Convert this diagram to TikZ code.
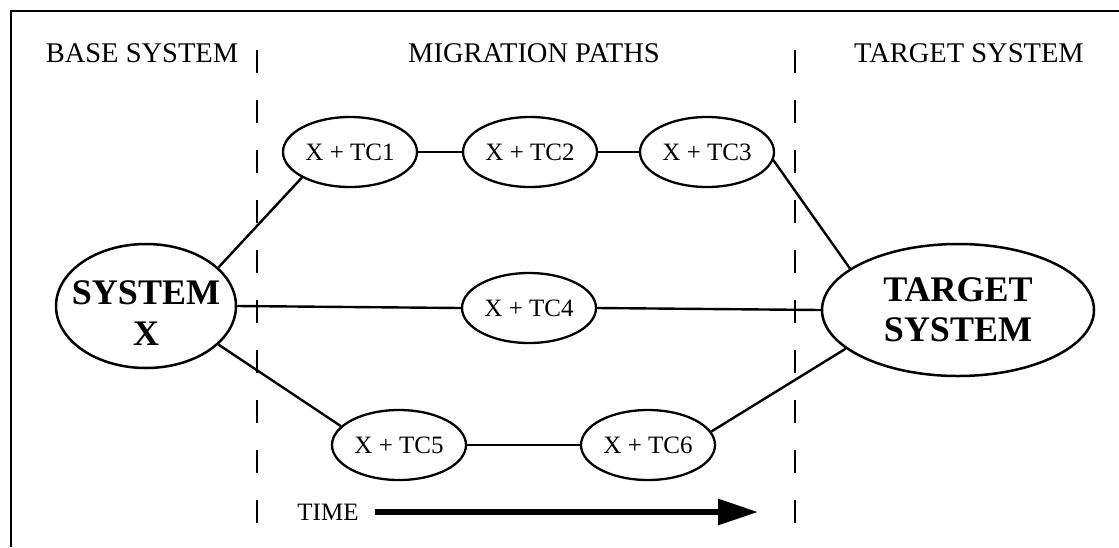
\documentclass[tikz,border=0pt]{standalone}
\usepackage{fontspec}
\setmainfont{Liberation Serif}
\usetikzlibrary{arrows.meta,shapes.geometric}
\begin{document}
\begin{tikzpicture}[x=1pt,y=-1pt,
  frame/.style={line width=2.6pt},
  divider/.style={line width=2pt,dash pattern=on 23pt off 27pt},
  link/.style={line width=2.4pt},
  tc/.style={ellipse,draw,line width=2.3pt,minimum width=134pt,minimum height=70pt,inner sep=0pt,font=\fontsize{25}{30}\selectfont},
  big/.style={ellipse,draw,line width=2.5pt,inner xsep=-20pt,inner ysep=-5pt,align=center,font=\fontsize{36}{40}\selectfont\bfseries},
  bigtext/.style={inner sep=0pt,align=center,font=\fontsize{36}{41}\selectfont\bfseries},
  title/.style={anchor=base,inner sep=0pt,font=\fontsize{28.5}{34}\selectfont},
  timearrow/.style={line width=6pt,-{Triangle[length=40pt,width=25pt]}}]
\useasboundingbox (0,0) rectangle (1119,547);
% frame
\coordinate (fr0) at (11,11);
\coordinate (fr1) at (1119,11);
\coordinate (fr2) at (11,547);
\draw[frame] (fr1) -- (fr0) -- (fr2);
% titles
\node[title] (t1) at (142,62) {BASE SYSTEM};
\node[title] (t2) at (534,62) {MIGRATION PATHS};
\node[title] (t3) at (969,62) {TARGET SYSTEM};
% dividers
\coordinate (d1a) at (257,50);
\coordinate (d1b) at (257,530);
\coordinate (d2a) at (795,50);
\coordinate (d2b) at (795,530);
\draw[divider] (d1a) -- (d1b);
\draw[divider] (d2a) -- (d2b);
% nodes
\node[big,minimum width=180pt,minimum height=124pt] (sx) at (146,306) {};
\node[bigtext] (sxt) at (146,313) {SYSTEM\\X};
\node[big,minimum width=272pt,minimum height=132pt] (tg) at (958,310) {TARGET\\SYSTEM};
\node[tc] (c1) at (350,152) {X + TC1};
\node[tc] (c2) at (530,152) {X + TC2};
\node[tc] (c3) at (707,152) {X + TC3};
\node[tc] (c4) at (529,308) {X + TC4};
\node[tc] (c5) at (399,445) {X + TC5};
\node[tc] (c6) at (648,445) {X + TC6};
% connectors
\draw[link] (sx.28) -- (c1.208);
\draw[link] (c1.east) -- (c2.west);
\draw[link] (c2.east) -- (c3.west);
\draw[link] (c3.353) -- (tg.159);
\draw[link] (sx.east) -- (c4.west);
\draw[link] (c4.east) -- (tg.west);
\draw[link] (sx.332) -- (c5.162);
\draw[link] (c5.east) -- (c6.west);
\draw[link] (c6.12) -- (tg.199);
% time
\node[anchor=base,inner sep=0pt,font=\fontsize{25}{28}\selectfont] (time) at (328,520) {TIME};
\coordinate (ta) at (375,512);
\coordinate (tb) at (758,512);
\draw[timearrow] (ta) -- (tb);
\end{tikzpicture}
\end{document}
